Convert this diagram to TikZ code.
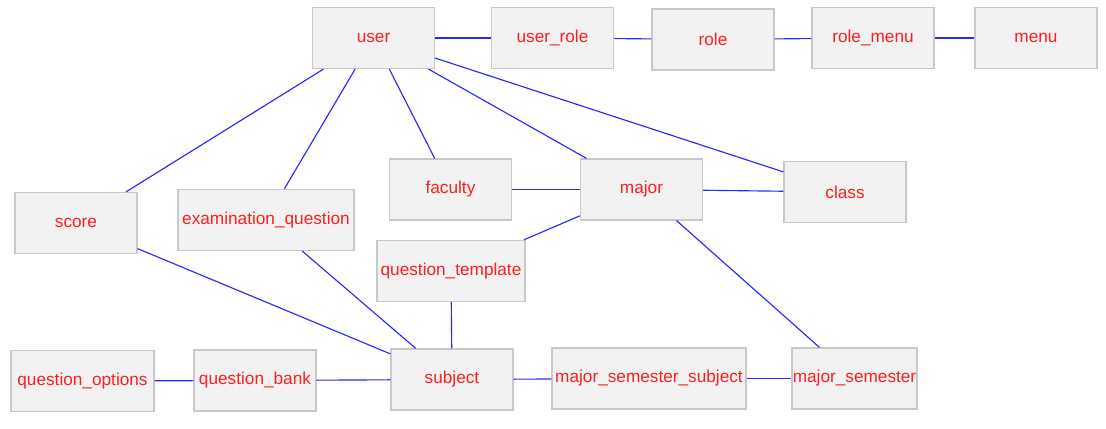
\documentclass[tikz,border=0pt]{standalone}
\usepackage{fontspec}
\setmainfont{Liberation Sans}
\usepackage{xcolor}
\definecolor{boxfill}{RGB}{242,242,242}
\definecolor{boxline}{RGB}{200,200,200}
\definecolor{tname}{RGB}{255,30,30}
\definecolor{link}{RGB}{40,40,255}
\tikzstyle{tbl}=[draw=boxline, fill=boxfill, line width=0.7pt, minimum width=2.44cm, minimum height=1.22cm, inner sep=0pt, text=tname, font=\fontsize{9.8}{11}\selectfont]
\tikzset{rel/.style={draw=link, line width=0.65pt}}

\begin{document}
\begin{tikzpicture}
  \useasboundingbox (0,0) rectangle (22.12,8.58);
  %% top row
  \draw (7.47,7.82) node[tbl] (user) {user};
  \draw (11.05,7.82) node[tbl] (userrole) {user\_role};
  \draw (14.26,7.79) node[tbl] (role) {role};
  \draw (17.46,7.82) node[tbl] (rolemenu) {role\_menu};
  \draw (20.72,7.82) node[tbl] (menu) {menu};

  %% middle
  \draw (1.52,4.12) node[tbl] (score) {score};
  \draw (5.32,4.18) node[tbl,minimum width=3.52cm] (examq) {examination\_question};
  \draw (9.01,4.79) node[tbl] (faculty) {faculty};
  \draw (12.83,4.79) node[tbl] (major) {major};
  \draw (16.90,4.74) node[tbl] (class) {class};
  \draw (9.02,3.16) node[tbl,minimum width=2.96cm] (qtemplate) {question\_template};

  %% bottom row
  \draw (1.65,0.96) node[tbl,minimum width=2.86cm] (qoptions) {question\_options};
  \draw (5.10,0.97) node[tbl] (qbank) {question\_bank};
  \draw (9.04,0.99) node[tbl] (subject) {subject};
  \draw (12.98,1.01) node[tbl,minimum width=3.88cm] (msubject) {major\_semester\_subject};
  \draw (17.09,1.01) node[tbl,minimum width=2.50cm] (msemester) {major\_semester};

  %% links
  \draw[rel] (user) -- (userrole);
  \draw[rel] (userrole) -- (role);
  \draw[rel] (role) -- (rolemenu);
  \draw[rel] (rolemenu) -- (menu);

  \draw[rel] (user) -- (score);
  \draw[rel] (user) -- (examq);
  \draw[rel] (user) -- (faculty);
  \draw[rel] (user) -- (major);
  \draw[rel] (user) -- (class);

  \draw[rel] (faculty) -- (major);
  \draw[rel] (major) -- (class);
  \draw[rel] (major) -- (qtemplate);
  \draw[rel] (major) -- (msemester);

  \draw[rel] (score) -- (subject);
  \draw[rel] (examq) -- (subject);
  \draw[rel] (qtemplate) -- (subject);

  \draw[rel] (qoptions) -- (qbank);
  \draw[rel] (qbank) -- (subject);
  \draw[rel] (subject) -- (msubject);
  \draw[rel] (msubject) -- (msemester);
\end{tikzpicture}
\end{document}
